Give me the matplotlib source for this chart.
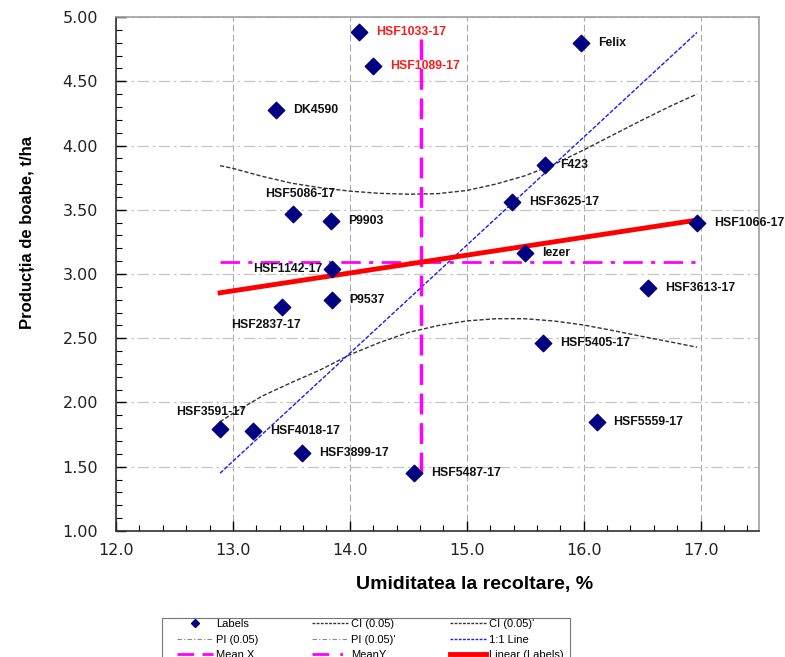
import numpy as np
import matplotlib
matplotlib.use('Agg')
import matplotlib.pyplot as plt
from matplotlib.lines import Line2D
from matplotlib.patches import Rectangle

plt.rcParams['font.family'] = ['Liberation Sans', 'DejaVu Sans']

# data
hybrids = ['HSF1033-17', 'HSF1089-17', 'DK4590', 'Felix', 'F423', 'HSF3625-17',
           'HSF1066-17', 'Iezer', 'HSF3613-17', 'HSF5086-17', 'P9903', 'HSF1142-17',
           'P9537', 'HSF2837-17', 'HSF3591-17', 'HSF4018-17', 'HSF3899-17',
           'HSF5487-17', 'HSF5405-17', 'HSF5559-17']
umiditate = [14.08, 14.20, 13.37, 15.98, 15.67, 15.39, 16.97, 15.50, 16.55, 13.51,
             13.84, 13.85, 13.85, 13.42, 12.89, 13.17, 13.59, 14.55, 15.65, 16.11]
productie = [4.88, 4.62, 4.28, 4.80, 3.85, 3.56, 3.40, 3.16, 2.89, 3.47,
             3.41, 3.04, 2.80, 2.74, 1.79, 1.78, 1.61, 1.45, 2.46, 1.85]
red_labels = ['HSF1033-17', 'HSF1089-17']

# CI (0.05) curves
ci_x = [12.89, 13.0, 13.25, 13.5, 13.75, 14.0, 14.25, 14.5, 14.75, 15.0,
        15.25, 15.5, 15.75, 16.0, 16.25, 16.5, 16.75, 16.97]
ci_upper = [3.843, 3.822, 3.76, 3.707, 3.671, 3.645, 3.628, 3.621, 3.625, 3.65,
            3.70, 3.765, 3.855, 3.965, 4.082, 4.198, 4.31, 4.40]
ci_lower = [1.85, 1.915, 2.05, 2.155, 2.255, 2.372, 2.465, 2.545, 2.598, 2.635,
            2.652, 2.652, 2.634, 2.603, 2.56, 2.514, 2.47, 2.43]

# label placement (pixel offsets, alignment)
offsets = {'HSF5086-17': (8, 20, 'center'), 'HSF1142-17': (-10, 0, 'right'),
           'HSF2837-17': (-16, -18, 'center'), 'HSF3591-17': (-9, 17, 'center'),
           'F423': (15, 0, 'left')}

x = np.array(umiditate)
y = np.array(productie)

slope, icpt = np.polyfit(x, y, 1)
xs = np.array([x.min(), x.max()])

fig = plt.figure(figsize=(7.85, 6.57), dpi=100)
ax = fig.add_axes([0.1478, 0.1918, 0.8191, 0.7823])

ax.set_xlim(12.0, 17.5)
ax.set_ylim(1.0, 5.0)
ax.set_xticks(np.arange(12.0, 17.01, 1.0))
ax.set_xticks(np.arange(12.0, 17.51, 0.2), minor=True)
ax.set_yticks(np.arange(1.0, 5.01, 0.5))
ax.set_yticks(np.arange(1.0, 5.01, 0.1), minor=True)
ax.xaxis.set_major_formatter(matplotlib.ticker.FormatStrFormatter('%.1f'))
ax.yaxis.set_major_formatter(matplotlib.ticker.FormatStrFormatter('%.2f'))
ax.tick_params(which='both', direction='in', top=False, right=False)
ax.tick_params(which='major', length=7, width=1)
ax.tick_params(which='minor', length=4, width=0.8)
ax.tick_params(axis='x', pad=9)
ax.tick_params(axis='y', pad=13)
for lb in ax.get_xticklabels() + ax.get_yticklabels():
    lb.set_fontfamily('DejaVu Sans')
    lb.set_fontsize(11.5)
    lb.set_color('#222222')
ax.xaxis.grid(True, linestyle=(0, (6, 3)), color='#a8a8a8', lw=0.8)
ax.yaxis.grid(True, linestyle=(0, (9, 3, 2, 3)), color='#c4c4c4', lw=0.9)
ax.set_axisbelow(True)

for sp in ['top', 'right']:
    ax.spines[sp].set_color('#a0a0a0')
    ax.spines[sp].set_linewidth(1.2)
for sp in ['left', 'bottom']:
    ax.spines[sp].set_color('#303030')
    ax.spines[sp].set_linewidth(1.2)

ax.plot(ci_x, ci_upper, color='#333333', ls=(0, (3, 1.5)), lw=1)
ax.plot(ci_x, ci_lower, color='#333333', ls=(0, (3, 1.5)), lw=1)
ax.plot([x.min(), x.max()], [y.min(), y.max()], color='#1a1aff', ls=(0, (3, 1.2)), lw=1)
ax.plot([x.mean(), x.mean()], [y.min(), y.max()], color='#ff00ff', ls=(0, (6, 2.5)), lw=2.5)
ax.plot([x.min(), x.max()], [y.mean(), y.mean()], color='#ff00ff', ls=(0, (7, 3, 1.5, 3)), lw=2)
ax.plot(xs, icpt + slope * xs, color='#ff0000', lw=3.5)
ax.scatter(x, y, marker='D', s=70, color='#000080', zorder=5)

for name, xi, yi in zip(hybrids, x, y):
    dx, dy, ha = offsets.get(name, (17, 0, 'left'))
    ax.annotate(name, (xi, yi), xytext=(dx, dy), textcoords='offset pixels',
                ha=ha, va='center', fontsize=8.8, fontweight='bold',
                color='#ff1a1a' if name in red_labels else '#111111', zorder=6)

ax.set_xlabel('Umiditatea la recoltare, %', fontsize=14, fontweight='bold')
ax.xaxis.set_label_coords((475 - 116) / 643, -(585 - 531) / 514)
ax.xaxis.label.set_va('center')
ax.set_ylabel('Producția de boabe, t/ha', fontsize=12, fontweight='bold')
ax.yaxis.set_label_coords((27 - 116) / 643, (531 - 232) / 514)
ax.yaxis.label.set_va('center')

# legend
h = [Line2D([], [], marker='D', color='#000080', ls='none', markersize=4),
     Line2D([], [], color='#888888', ls=(0, (4, 2, 1, 2)), lw=0.8),
     Line2D([], [], color='#ff00ff', ls=(0, (6, 3)), lw=2),
     Line2D([], [], color='#333333', ls=(0, (2, 1)), lw=1),
     Line2D([], [], color='#888888', ls=(0, (4, 2, 1, 2)), lw=0.8),
     Line2D([], [], color='#ff00ff', ls=(0, (6, 4, 1, 4)), lw=2),
     Line2D([], [], color='#333333', ls=(0, (2, 1)), lw=1),
     Line2D([], [], color='#1a1aff', ls=(0, (2, 1)), lw=1),
     Line2D([], [], color='#ff0000', lw=3.5)]
lab = ['Labels', 'PI (0.05)', 'Mean X', 'CI (0.05)', "PI (0.05)'", 'MeanY',
       "CI (0.05)'", '1:1 Line', 'Linear (Labels)']
fig.legend(h, lab, ncol=3, loc='upper left', bbox_to_anchor=(177 / 785, 1 - 619 / 657),
           fontsize=8, frameon=False, handlelength=3.25, handletextpad=0.27,
           columnspacing=4.85, labelspacing=0.5, borderpad=0, borderaxespad=0)
fig.patches.append(Rectangle((162 / 785, -0.05), (570 - 162) / 785, 0.05 + 39 / 657,
                             transform=fig.transFigure, fill=False,
                             edgecolor='#777777', lw=0.8))

fig.savefig('out.png', dpi=100)
